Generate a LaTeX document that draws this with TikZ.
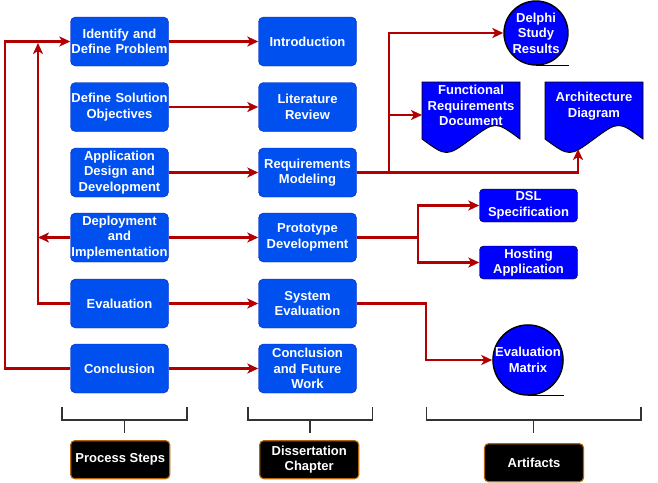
\documentclass[tikz,border=0pt]{standalone}
\usepackage{fontspec}
\setmainfont{Liberation Sans}
\usetikzlibrary{arrows.meta}

\definecolor{stepblue}{HTML}{0050EF}
\definecolor{stepedge}{HTML}{001DBC}
\definecolor{flowred}{HTML}{B20000}
\definecolor{legendedge}{HTML}{B46504}

\begin{document}
\begin{tikzpicture}[
    x=1pt, y=-1pt,
    >={Stealth[length=11pt, width=10pt, inset=3pt]},
    boxfont/.style={font=\bfseries\fontsize{13}{15.5}\selectfont},
    flow/.style={->, line width=2.2pt, flowred},
    stepbox/.style={rectangle, rounded corners=5pt, fill=stepblue, draw=stepedge,
        minimum width=98pt, minimum height=49pt, text width=98pt, align=center,
        inner sep=0pt, text=white, boxfont},
    artbox/.style={stepbox, fill=blue, draw=black, minimum height=33pt, rounded corners=4pt},
    artcircle/.style={circle, fill=blue, draw=black, line width=1.4pt, minimum size=64pt,
        inner sep=0pt, align=center, text=white, boxfont},
    docshape/.style={fill=blue, draw=black, line width=0.9pt},
    doctext/.style={align=center, text=white, inner sep=0pt, boxfont},
    legendbox/.style={rectangle, rounded corners=4pt, fill=black, draw=legendedge, line width=1.1pt,
        minimum width=99pt, minimum height=38pt, align=center, inner sep=0pt, text=white, boxfont},
    bracket/.style={line width=1.8pt, black!80},
]

\useasboundingbox (0,0) rectangle (658,482);

%--- Coordinates ---
\def\colA{119.5}   % process steps column x
\def\colB{307.5}   % dissertation chapter column x
\def\colC{528.5}   % artifact boxes x

%--- Process steps ---
\node[stepbox] (ident)  at (\colA, 41.5)  {Identify and\\Define Problem};
\node[stepbox] (defsol) at (\colA, 107)   {Define Solution\\Objectives};
\node[stepbox] (appdes) at (\colA, 172.5) {Application\\Design and\\Development};
\node[stepbox] (deploy) at (\colA, 237.5) {Deployment\\and\\Implementation};
\node[stepbox] (evals)  at (\colA, 303.5) {Evaluation};
\node[stepbox] (concl)  at (\colA, 368.5) {Conclusion};

%--- Dissertation chapters ---
\node[stepbox] (intro)   at (\colB, 41.5)  {Introduction};
\node[stepbox] (litrev)  at (\colB, 107)   {Literature\\Review};
\node[stepbox] (reqmod)  at (\colB, 172.5) {Requirements\\Modeling};
\node[stepbox] (proto)   at (\colB, 237.5) {Prototype\\Development};
\node[stepbox] (syseval) at (\colB, 303.5) {System\\Evaluation};
\node[stepbox] (concfw)  at (\colB, 368.5) {Conclusion\\and Future\\Work};

%--- Artifacts ---
\node[artcircle] (delphi) at (536, 33) {Delphi\\Study\\Results};
\draw[line width=1.4pt] (delphi.south) -- (delphi.south -| delphi.east);

% Functional requirements document
\draw[docshape] (422,82) -- (520,82) -- (520,139)
    .. controls (495.5,121) .. (471,139) .. controls (446.5,157) .. (422,139) -- cycle;
\node[doctext] (frd) at (471,105.5) {Functional\\Requirements\\Document};
\coordinate (frd-in) at (422,115);

% Architecture diagram
\draw[docshape] (545,82) -- (643,82) -- (643,139)
    .. controls (618.5,121) .. (594,139) .. controls (569.5,157) .. (545,139) -- cycle;
\node[doctext] (arch) at (594,106) {Architecture\\Diagram};
\coordinate (arch-in) at (578,149);

\node[artbox] (dsl)  at (\colC, 205.5) {DSL\\Specification};
\node[artbox] (host) at (\colC, 262.5) {Hosting\\Application};

\node[artcircle] (evalmat) at (528, 360) {Evaluation\\Matrix};
\draw[line width=1.4pt] (evalmat.south) -- (evalmat.south -| evalmat.east);

%--- Feedback lines on the left ---
\coordinate (outer) at (5,0);
\coordinate (inner) at (38,0);
\draw[flow] (concl.west) -- (concl.west -| outer) |- (ident.west);
\draw[flow] (evals.west) -- (evals.west -| inner) -- ([yshift=-1.5pt]ident.west -| inner);
\draw[flow] (deploy.west) -- (deploy.west -| inner);

%--- Steps to chapters ---
\draw[flow] (ident.east)  -- (intro.west);
\draw[flow] (defsol.east) -- (litrev.west);
\draw[flow] (appdes.east) -- (reqmod.west);
\draw[flow] (deploy.east) -- (proto.west);
\draw[flow] (evals.east)  -- (syseval.west);
\draw[flow] (concl.east)  -- (concfw.west);

%--- Chapters to artifacts ---
\coordinate (reqfork) at (389,0);
\draw[flow] (reqmod.east) -| (arch-in);
\draw[flow] (reqmod.east -| reqfork) |- (delphi.west);
\draw[flow] (reqmod.east -| reqfork) |- (frd-in);

\coordinate (protofork) at (418,0);
\draw[flow] (proto.east) -- (proto.east -| protofork) |- (dsl.west);
\draw[flow] (proto.east -| protofork) |- (host.west);

\coordinate (evalfork) at (426,0);
\draw[flow] (syseval.east) -- (syseval.east -| evalfork) |- (evalmat.west);

%--- Column brackets ---
\draw[bracket] (62,406.5) -- (62,420) -- (187,420) -- (187,406.5);
\draw[bracket] (124.5,420) -- (124.5,433);
\draw[bracket] (248,406.5) -- (248,420) -- (372.5,420) -- (372.5,406.5);
\draw[bracket] (310,420) -- (310,433);
\draw[bracket] (426.5,406.5) -- (426.5,420) -- (641,420) -- (641,406.5);
\draw[bracket] (533.5,420) -- (533.5,433);

%--- Column legends ---
\node[legendbox] (steps)   at (120.2, 459.7) {Process Steps};
\node[legendbox] (chapter) at (309.2, 459.7) {Dissertation\\Chapter};
\node[legendbox] (artif)   at (534, 462.7)   {Artifacts};

\end{tikzpicture}
\end{document}
